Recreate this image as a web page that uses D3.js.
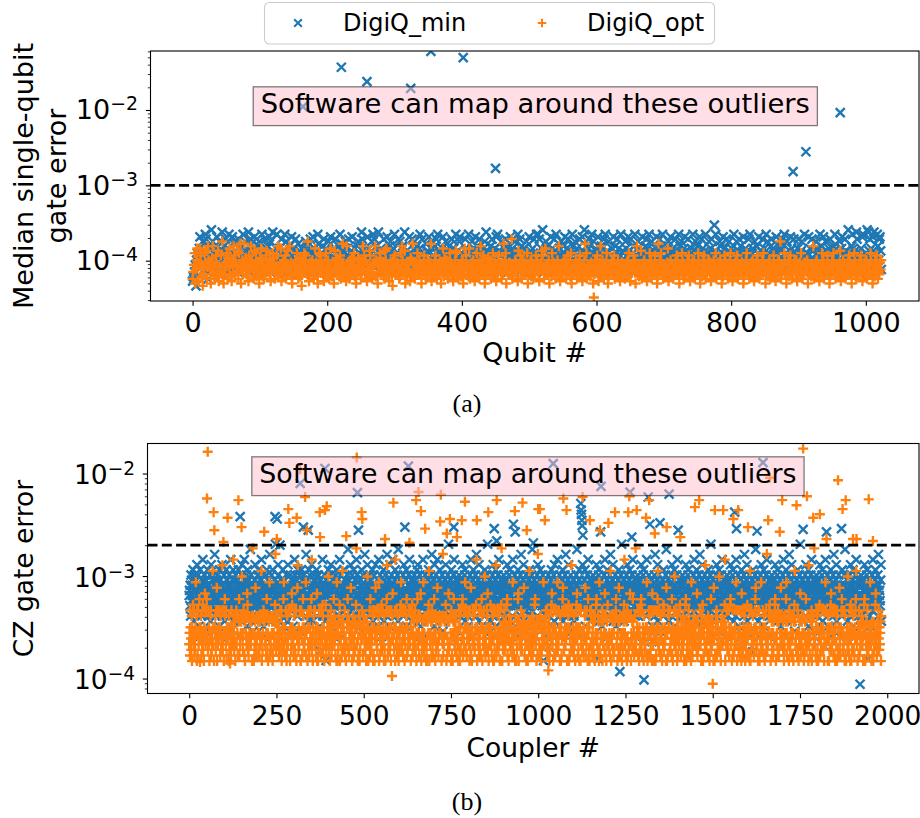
<!DOCTYPE html>
<html lang="en">
<head>
<meta charset="UTF-8">
<title>DigiQ gate errors</title>
<script src="https://d3js.org/d3.v7.min.js"></script>
<style>
  body { margin: 0; background: #fff; }
  svg { display: block; font-family: "DejaVu Sans", sans-serif; }
</style>
</head>
<body>
<script>
// Each character is one reading off the picture, on a log grid (base-36 digit k):
// value = 10^(lo + step * k)
const qubitGrid = { lo: -4.52, step: 0.031 };
const couplerMinGrid = { lo: -4.09, step: 0.05 };
const couplerOptGrid = { lo: -4.16, step: 0.055 };

const qubitMinLevels = [
  "8a9cf6hk gjmrhekp fdlsqgi9 nhcjuepk ighmrdfj pkbhtlgn eqjhcmsi gkfrdhop lhjcqmfe nigsdkph jfltgcqo hkemrjfd ignpbhls kdhqefmj ngrcpiht fjkdmsgh",
  "hmdkqgjf lsepihck nfjrgdmh kqhbeoil gjmdshfk pcinlgeq jhkrfmdi lgsohjce knfqdimh gjpekrhl dmigqfkc hnjsegol ikdpmhfj qgcklrei hmfjdnpg kietqhjm",
  "fjlcrhmg dkpishqe gnhjtfkc mielqgdh jrfkcnph lgmdsiej hkqfpgcm nihtjdlf egrkmhqi cjplfngd hmskeqig jdfoclhr kgimpejh ndqgsfkl hjcmrieg pkdhlnfj",
  "gqkdmhjs eilfprgc khnjdqmf igslhekp cjmgrdhn lfqkiejh mdpgtclk hfjniqeg kmdrhsfl gjcpkeim hqldnfgj rkemhicp fjgsldqh kndhmjfe pgikrclh jmfqdgks",
  "hsjqdkmf ugcilphe njgkrdmh fqlesikc jmhdpgfn kricmhqj egldsnhk pfjmcigq hkdrleuj gnfimqch ksdjpeml hgrfkcin mjdqhsge lkpfgjcm irhdnekq gmjcsfhl",
  "kdhpmgjr fleqickn hsjgdmpf kiclrhej gnqdmfsk hjpeilcg mrkdhfqj ngsleimc dhkpjgrf lmcehqik jgsdnfph kemrilgc qjhdfmks gilpcenh jrdkqfmg hlsjeckp",
  "fjmqhdkw lsgihecp njdkrfmh gqcilphe kmhdsgjf pielqcnh jgrkdmfi lhqesjck mfgpidnh krcjlghq fmdisepk hjgnqcml dkfrhjge nilmqcgs hkfpdjel rgmicqhf",
  "jdhmqgkf lpeicshn gkjrdmfh qilcegpk mhjdsfng kricphle jmgqdhfk nlsiejcg hpdkmrfj gqlcieuh kjdnsmfg lhtqeikc gmjrsdhe kfuitlqh mgdrtkfe jsnhqrld"
];

const qubitOptLevels = [
  "9cfk7dhm e8gmjaf6 bdkgl9en hfb7dine a9gjfbl8 cejbpa7f dbgk9iem fa8hcnjb gecl9kfo 7dhbgoei bfa8jdgn hec9lfka dgb7ihme af9cdjlg echb8fdk gi9cejbn",
  "dbfm8cga hej9dlfc nbga7ecd fhbkc9di ag6cfekh jdbpa8gc efhb9dmc ga7fkdjh ceb8gakd fhc9bmea dg7lfcie hbaj9dfo gebc8nfa d9hcfige kab7dcih fe9bgndj",
  "bhc8fdal jeb9cgfn ahb7ecki gdcfa9lh mecb8dgf a6hcjebd gfb9akcn hecl7bfa dgc8ihbo fa9cgdkb ehbd7fcg jca9bhed fgo8cbda hje9bfcg d7gcmaif ehb9dckg",
  "cfa8bdhl kec9fbda gh7bmejd fbam9dcg ehc8bfka dg9cnhef jb7adcgi fch9bekd agb8cfhj dec9gbof hk7cdbeg fbq9acdh gec8lfdj a9hdcgbe fk7bcdha ge9bfcjd",
  "hcb8dfgl je9cmbdf bh7ecakd gfc9bdhe na8cfbgd ehb9djcf gak7bcde fhb9cgdj bec8afho dk9bcefa gcd71bhe fjb8cgna ehc9bfgk d7abcefh gbj9dcfa hce8bdgf",
  "bf9cdgha ke8bcfdj gh7cneda fbl9dcgh eac8bfdk gh9cbdej fb7aodhg kec9bfda dgm8cbhe fa9cdgbj heb7cfdk ga9bcedh fjc8bdga eh9cbfdk gb7dcahf je9cbgdh",
  "cg8bdfha ek9cbgdf hb7cadje gfc9bdhk ea8cbfgd hj9bcedf gb7acdhk fec9bdga hd8cbgej fa9bcdhg kec7bfda gh9dcbej fb8acdgh ep9cbfdk gb7dchaf jd9cbegh",
  "bh8cdfga ke9bcgdf gh7cbeda fbn9dcgh eac8bfdk gh9cbdej fb7acdhg kec9bfda dgl8cbhe fa9cdgbj heb7cfdk ga9bcedh fjc8bdga eh9cbfdk gb7dcahf je9cbgdh"
];

// qubit index, error: DigiQ_min points that sit far above the band
const qubitMinOutliers = [
  [164, 1.11e-2], [221, 3.69e-2], [259, 2.38e-2], [324, 1.94e-2], [354, 6.0e-2],
  [402, 4.96e-2], [450, 1.68e-3], [892, 1.52e-3], [911, 2.79e-3], [962, 9.2e-3]
];

const couplerMinLevels = [
  "ijgkemhl kihnjdgm hjlfkiog jhmkcian gikjelhp kjhimfgb ljgiknhe hkjmgdio jighlmfk iqhjkegl hkmijcgn jlhgkioe kihjmfdg hjnkilga ijkmhegp khjgilnd",
  "jhigkmel ihjkfnga kjlhimdo hgkjiepl jikhmcgn ihjlkgfr kmjhigeb hjkilodg ijhgkmfn kighjlep jhmkicga hikjgmnf jkhilgdq ikjhmegn hjgkilcs kijhmfgo",
  "mgikhdjl fkhjnigc lihkgejm dhjoikga kgmhjfil ihcjkgpm jlghkien gkibjmhf hnjkigld mjhgkeiq kglihjdn ijmhfkgo hkdjgilm gjlkhnei khmijgcf lihgkjpe",
  "jgkimhfd hlikjgen ikgjhmoc kjfhlgai gihkmjdn hjlgikep kmihgjfa ijhnkgdl gkjihmer jhlkgiof ihkmjgcn kgjhildp hmkigjfe jihlkgnb kgmjhidq ihjkglfo",
  "hkigjmel ghjkinfd jmhikgoc ikhgjlep khjmigfa gjikhndl ihmkjgeq jkgihlco hgkjmifp kijhglne jhgkimdr ihkjlgfb gkhijmeo jikghlnc hjgkimfp kighjlda",
  "gjhkimle khijgnfo jikghmdc hgjklipe ikjhmgfa jghiklnd khimjgeq ihgjklco jkhmigfp hgkijlne kjihgmdb ihjkglfo gkjhimes jhikgldn kighjmfp hjkgilea",
  "ikjhgmle jhkgilfo kigjhmnd hjikglec gkhjimfp ijhgklna khjimgeq jgihklod hikgjmfc kjhiglen ihgkjmfs gkjhildb jihkgmeo hkgjilnc kijhgmfp jghkilda",
  "hgjkimle jkihglfo ikhgjmnd kjgihlep hikjgmfc gjhkilna ikjhgmeq hkgijlod jihkgmfb kghjilen ijkhgmfr hjgiklda kihjgmeo gkjhilnc jihgkmfp hkjgilea",
  "jhkgimf8 ikgjhlnc hjkimgdo kigjhlfp ghkijmea jikhglnd hkgjimeq ikjhglco jghkimfb kihjgled hjgkimfr ikhjglna gjkhimeo khijglnc jihkgmfp hkjgilde",
  "ikhgjmle hgjkilfo jkihgmnd gihkjlec kjgihmfp hikjglna jghkimeq kihjglod ighkjmfc jkhiglen hgijkmfs kjhgilda ihkjgmeo gjhkilnc khjigmfp ijkghlea",
  "hkgjimle jkighlfo ihkjgmnd kgjihlep jhkigmfa ighkjl9c khjgimeq hijkglod gkihjmfb jhgkilen ikhjgmfr kgijhlda hjkigmeo ijghklnc kjhgimfp gihjklea",
  "jgikhmle kihgjlfo hjgkimnd ikjhglec gjhkimfp khigjlna ijkhgmeq hkgijlod jihkgmfc ghkjilen kjihgmfs ihjkglda jkhigmeo gihjklnb khjgimfp jigkhlea",
  "kighjmle hjkgilfo jikhgmnd hgjkilep kihjgmfc jhkgilna igkjhmeq khijglod hjgkimfa ikhjgl7n gjkihmfr kjhgilda ihgjkmeo jkhiglnc hgijkmfp kjihglea",
  "hijgkmle gkjihlfo jhkigmnd khgjilec ijkhgmfp gihkjlna hkjigmeq jgkhilod kihgjmfb hjkiglen igjhkmfs jkhgilda gihjkmeo khjiglnc ijkghmfp hgkjilea",
  "gkhijmle jihkglfo kgjhimnd ihkgjl8p hjgkimfc kijhglna gkhjimeq jihgklod hkjgimfa igkhjlen jhkigmfr kghijlda ihjkgmeo gjkihlnc kihjgmfp jhgkilea",
  "ikjghmle hgkjilfo jihkgmnd kghjilec ihjkgmfp jkgihlna hgkijmeq kijhglod"
];

const couplerOptLevels = [
  "9b7fca8e 6cagb9f7 a8ckbe6f 7bf9ahc8 cae7b9fg 8a6cbif9 bfh7ac8f 9c6abef7 a8bmc9f6 7cbe8afj 6b9fcafa c7e8bf9n 8ac6fbhe b9f7cakc a6e8bfc9 7fb9caoe",
  "b8ad6e9f 9eb7eadh 7a9ebd6l ea8bfe7d 6dbe9aig 8e7aebd9 a9de6bqe e6b8adj7 9ea7ebd8 b7ed9aem 6a8befd9 de9a7bhe 8b6edak7 a9ee8bd6 7eb9adgp e8a6dbe9",
  "a7c9bf8e f6ab8chk 9cb7aff6 8ea9cbf7 b6fc8aig c9a7bef8 7bf6cajn a8c9bff6 6fba7che 9c8afbk7 bae6c9f8 7c9bfaho 8a6cbef9 f9b7aci6 c6a8bffs 9b7facge",
  "8cb6ad9g a7d9cbel c8a6bdf9 7b9dcahe 9ad7cb6k b6c8daeg 6a9bc7dm d8cba9f7 a6b9cdhe 8d7acb9j c9b6ade8 7ab8dcgq b9c6a7de 6d8bcaif 9a7cdbe8 a8b6dc9l",
  "c6a9bf7h 9b8cafe6 7fc6abjf a9b8cfek 6c7afb9g b8f9ca6e 8a6cbfhn f7b9acf8 9c6fabei a7c8bf6o c9f7abe8 6b8acfgk 8f9ca7bf b6a9fceh 7c8baf9r a9f6cbeg",
  "7b9ade8f a8e6bdhe 9db7eaei e6a8bd9k b7e9ade6 8a6debgm 6e9bad7f d8a7ebhe a6b8de9j 9e7bade8 b8d6ea9p 7a9edbeg e6b7ad8i 8d9aeb6f a7e6bdhe 9b8dae7s",
  "b9a6cf8e 6c8fabgh a7b9fc6k 8fc7abef c9a6bf8j 7b6caf9e 9a8fbcgo f6c9ab7f a8b7cfhe 6c9baf8l b7a8cfei 8f6cab9g c9b7afe6 a6f8cbfn 7c9abf8e 9b6fcagq",
  "a6c8bd9f 8b9dacgh 7ca6bde9 c8d9ab7k 9a7cbd6e b6a8cdhi 6d9bac8f a8c7dbej d7b9ac6g 9c6abd8m 8ad7cb9e 7b8cadgh c9a6bd7p a7d9cbe8 6c8bad9k b9a7dcfe",
  "9f7acb8e 6b8cafgi a9c6bf7f c7b8af9k 8a9fcb6e b6c7afhj 7f8bac9f a9b6cfeg 6c7abf8n f8a9cb7e 9b6acfgi a7c8bf6f c6f9ab8r 8b7cafej 7a9fcb6h b8c6af9f",
  "e8a7bd9e 7d6eabgh a9b8ed6k 8e7abdef 6a9deb8i b7e6ad9g 9d8abe7m a6e9bde8 7b8daefh e9a6bd7j 8d7eab9e 6a8bedgo b9e7ad6f a7d8ebei 9e6bad8h d8b7ae9q",
  "8a9cbf7f b6c8afgh 9f7acb6e a8b9cf7k c6a7bf9e 7b8fac6i f9c6ab8f 6a7bcfhm 9c8fab7e b7a6cf9g 8f9cab6j a6b7fcef c8f9ab7h 7a6cbf9l 9b8afc6e a7c9bfgs",
  "b7d9ac8e 9a6cbdgh 6c8abd7f d9b7ac6k 8a7cbde9 c6b9ad8i 7d8abc9f a9c6dbeg 6b7cad8n 9d8abc7e c7a6bd9h 8b9dac6j a6c7bdef 7d9cab8l b8a6cd9e 9c7abdgo",
  "6b9caf8f a8f7cbgh c9a6bf7e 7b8acf9k 9f6abc8f b7c9af6i 8a7fcb9e f6b8ac7g a9c7bf6m 6c8fab9e 9b7acfhj c8a9bf6f 7f6cab8k a9b8fc7e b6c7af9p 8a9cbfeg",
  "9e6abd8e 7b8daegh a6e9bd7f 8d7eab9j e9b6ad8e 6a8bedhk b7d9ae6f 9e8abd7e a7b6edgm d9a8eb7f 8e6bad9i 7a9deb8e e6b7ad9h a8d9eb6n 9b7aedef 6d8bae9q",
  "a9b7cf6e 8c6fabgh 7a9cbf8f c8b6af9k 9f7abc6e b6a8cfgi 8c9fab7f a7b6cf9e 6f8acb7j 9a7cbfhf c8b9af6e 7f6abc8l b9a7cf6g a6c8fb9e 8b7cafhm f9a6cb7f",
  "7c8abd9e a9d6cbgh c6b9ad8f 8a7dcb9k b9c6ad7e 6d8acbgi 9a7bcd8f a8c9bd6e"
];

// coupler index, error: readings outside the grid or picked out one by one
const couplerMinExtra = [
  [146, 3.8e-3], [246, 3.8e-3], [252, 3.6e-3], [260, 2.0e-3], [318, 8.0e-3], [327, 3.0e-3],
  [341, 2.8e-3], [389, 1.12e-2], [375, 1.85e-4], [392, 1.5e-4], [482, 6.5e-3], [485, 2.8e-3],
  [618, 3.0e-3], [628, 1.18e-2], [758, 3.0e-3], [874, 2.9e-3], [881, 2.2e-3], [929, 3.2e-3],
  [934, 2.7e-3], [986, 2.1e-3], [1015, 1.5e-4], [1043, 1.25e-2], [1122, 5.1e-3], [1123, 4.4e-3],
  [1124, 4.0e-3], [1125, 3.5e-3], [1126, 3.1e-3], [1128, 2.5e-3], [1172, 1.55e-4], [1179, 2.7e-3],
  [1180, 7.5e-3], [1234, 1.17e-4], [1263, 6.6e-3], [1268, 2.4e-3], [1303, 9.7e-5], [1315, 5.9e-3],
  [1320, 3.2e-3], [1349, 3.3e-3], [1375, 6.3e-3], [1401, 2.8e-3], [1563, 4.2e-3], [1568, 2.9e-3],
  [1627, 2.75e-3], [1644, 1.28e-2], [1759, 2.85e-3], [1826, 2.7e-3], [1869, 2.9e-3], [1922, 8.8e-5],
  [1945, 1.55e-4]
];
const couplerOptExtra = [
  [31, 1.45e-4], [51, 5.7e-3], [53, 1.63e-2], [70, 4.2e-3], [72, 2.8e-3], [98, 2.15e-3],
  [110, 3.7e-3], [117, 1.4e-4], [141, 5.5e-3], [150, 3.0e-3], [215, 2.7e-3], [251, 2.3e-3],
  [284, 4.5e-3], [287, 3.3e-3], [308, 3.7e-3], [318, 1.1e-2], [332, 5.9e-3], [337, 2.8e-3],
  [374, 4.2e-3], [389, 4.4e-3], [394, 4.8e-3], [450, 2.45e-3], [480, 1.43e-2], [494, 4.2e-3],
  [496, 3.6e-3], [561, 2.3e-3], [581, 1.06e-4], [585, 5.2e-3], [650, 5.5e-3], [657, 6.6e-3],
  [664, 4.3e-3], [676, 2.9e-3], [719, 3.4e-3], [721, 6.2e-3], [738, 2.6e-3], [747, 3.6e-3],
  [781, 3.5e-3], [790, 5.3e-3], [824, 3.5e-3], [857, 4.2e-3], [881, 5.5e-3], [933, 4.3e-3],
  [955, 5.2e-3], [967, 2.8e-3], [1000, 4.5e-3], [1005, 4.5e-3], [1019, 3.5e-3], [1029, 1.2e-4],
  [1072, 5.7e-3], [1081, 4.4e-3], [1127, 5.9e-3], [1148, 3.5e-3], [1177, 2.8e-3], [1201, 3.3e-3],
  [1220, 4.2e-3], [1258, 4.2e-3], [1261, 6.0e-3], [1282, 4.4e-3], [1309, 3.7e-3], [1318, 5.5e-3],
  [1334, 2.6e-3], [1368, 3.0e-3], [1449, 4.7e-3], [1461, 5.5e-3], [1500, 8.9e-5], [1506, 4.4e-3],
  [1530, 4.4e-3], [1559, 3.6e-3], [1573, 4.4e-3], [1601, 3.0e-3], [1659, 3.5e-3], [1664, 9.1e-3],
  [1692, 2.7e-3], [1699, 5.5e-3], [1740, 4.9e-3], [1759, 1.75e-2], [1770, 6.0e-3], [1788, 3.7e-3],
  [1807, 4.0e-3], [1826, 2.3e-3], [1859, 8.6e-3], [1872, 4.5e-3], [1881, 5.5e-3], [1902, 2.3e-3],
  [1912, 2.3e-3], [1947, 5.6e-3], [1959, 2.2e-3]
];

const qubitTicks = [0, 200, 400, 600, 800, 1000];
const couplerTicks = [0, 250, 500, 750, 1000, 1250, 1500, 1750, 2000];
const decadeTicks = [-4, -3, -2];
const qubitThreshold = 1e-3;
const couplerThreshold = 2e-3;
const noteText = "Software can map around these outliers";
const seriesNames = ["DigiQ_min", "DigiQ_opt"];
const colors = ["#1f77b4", "#ff7f0e"];

function readLevels(lines, grid, extras) {
  const pts = lines.join("").replace(/\s+/g, "").split("")
    .map((c, i) => ({ x: i, y: Math.pow(10, grid.lo + parseInt(c, 36) * grid.step) }));
  (extras || []).forEach(([i, v]) => { if (pts[i]) pts[i].y = v; });
  return pts;
}

const X_PATH = "M-4.5,-4.5L4.5,4.5M-4.5,4.5L4.5,-4.5";
const PLUS_PATH = "M-5,0H5M0,-5V5";

const svg = d3.select("body").append("svg")
  .attr("width", 920).attr("height", 818);

function panel(o) {
  const x = d3.scaleLinear().domain(o.xDomain).range([o.left, o.right]);
  const y = d3.scaleLog().domain(o.yDomain).range([o.bottom, o.top]);
  const g = svg.append("g");

  svg.append("clipPath").attr("id", "clip-" + o.id).append("rect")
    .attr("x", o.left).attr("y", o.top)
    .attr("width", o.right - o.left).attr("height", o.bottom - o.top);
  const plot = g.append("g").attr("clip-path", `url(#clip-${o.id})`);

  o.series.forEach(s => {
    plot.append("g").selectAll("path").data(s.points).join("path")
      .attr("transform", d => `translate(${x(d.x).toFixed(2)},${y(d.y).toFixed(2)})`)
      .attr("d", s.marker === "x" ? X_PATH : PLUS_PATH)
      .attr("fill", "none").attr("stroke", s.color).attr("stroke-width", 2.4);
  });

  plot.append("line")
    .attr("x1", o.left).attr("x2", o.right)
    .attr("y1", y(o.threshold)).attr("y2", y(o.threshold))
    .attr("stroke", "#000").attr("stroke-width", 2.7).attr("stroke-dasharray", "10,4.3");

  // note box (pink, half transparent, over the points)
  const note = g.append("g");
  const box = note.append("rect");
  const txt = note.append("text")
    .attr("x", o.left + o.note.dx).attr("y", o.top + o.note.dy)
    .attr("font-size", o.noteSize).attr("fill", "#000").text(noteText);
  const w = txt.node().getComputedTextLength();
  box.attr("x", o.left + o.note.dx - 7.5).attr("y", o.top + o.note.dy - 26.5)
    .attr("width", w + 15).attr("height", 38.8)
    .attr("fill", "pink").attr("fill-opacity", 0.5)
    .attr("stroke", "#000").attr("stroke-opacity", 0.5).attr("stroke-width", 1.3);

  // axes
  const xAxis = g.append("g").attr("transform", `translate(0,${o.bottom})`)
    .call(d3.axisBottom(x).tickValues(o.xTicks).tickSize(4.7).tickPadding(o.xPad).tickFormat(d3.format("d")));
  xAxis.select(".domain").remove();
  xAxis.selectAll("text").attr("font-size", o.fontSize).attr("font-family", "DejaVu Sans").attr("fill", "#000");
  xAxis.selectAll("line").attr("stroke", "#000").attr("stroke-width", 1.1);

  const minors = [];
  for (let e = -6; e <= 0; e++) for (let m = 2; m <= 9; m++) {
    const v = m * Math.pow(10, e);
    if (v > o.yDomain[0] && v < o.yDomain[1]) minors.push(v);
  }
  const yMinor = g.append("g").attr("transform", `translate(${o.left},0)`)
    .call(d3.axisLeft(y).tickValues(minors).tickSize(2.7).tickFormat(""));
  yMinor.select(".domain").remove();
  yMinor.selectAll("line").attr("stroke", "#000").attr("stroke-width", 0.8);

  const yMajor = g.append("g").attr("transform", `translate(${o.left},0)`)
    .call(d3.axisLeft(y).tickValues(decadeTicks.map(e => Math.pow(10, e))).tickSize(4.7).tickFormat(""));
  yMajor.select(".domain").remove();
  yMajor.selectAll("line").attr("stroke", "#000").attr("stroke-width", 1.1);

  decadeTicks.forEach(e => {
    const t = g.append("text")
      .attr("x", o.left - 12.5).attr("y", y(Math.pow(10, e)) + o.yLabelShift)
      .attr("text-anchor", "end").attr("font-size", o.fontSize).attr("fill", "#000");
    t.append("tspan").text("10");
    t.append("tspan").attr("dy", -9).attr("font-size", o.fontSize * 0.7).text("\u2212" + Math.abs(e));
  });

  g.append("rect")
    .attr("x", o.left).attr("y", o.top)
    .attr("width", o.right - o.left).attr("height", o.bottom - o.top)
    .attr("fill", "none").attr("stroke", "#000").attr("stroke-width", 1.1);

  g.append("text")
    .attr("x", (o.left + o.right) / 2).attr("y", o.xLabelY)
    .attr("text-anchor", "middle").attr("font-size", o.fontSize).text(o.xLabel);

  o.yLabel.forEach((line, i) => {
    g.append("text")
      .attr("transform", `translate(${o.yLabelX[i]},${(o.top + o.bottom) / 2}) rotate(-90)`)
      .attr("text-anchor", "middle").attr("font-size", o.fontSize).text(line);
  });

  g.append("text")
    .attr("x", 467).attr("y", o.capY)
    .attr("text-anchor", "middle").attr("font-family", "Liberation Serif, serif")
    .attr("font-size", 26).text(o.caption);
}

panel({
  id: "a", left: 150.5, right: 919, top: 51, bottom: 301,
  xDomain: [-62.5, 1079], yDomain: [Math.pow(10, -4.535), Math.pow(10, -1.217)],
  xTicks: qubitTicks, xPad: 7, fontSize: 27, noteSize: 27.4, yLabelShift: 9.5,
  series: [
    { points: readLevels(qubitMinLevels, qubitGrid, qubitMinOutliers), marker: "x", color: colors[0] },
    { points: readLevels(qubitOptLevels, qubitGrid), marker: "+", color: colors[1] }
  ],
  threshold: qubitThreshold,
  note: { dx: 110.2, dy: 62.3 },
  xLabel: "Qubit #", xLabelY: 362,
  yLabel: ["Median single-qubit", "gate error"], yLabelX: [33, 65.5],
  caption: "(a)", capY: 412
});

panel({
  id: "b", left: 147.5, right: 919, top: 443.5, bottom: 693.5,
  xDomain: [-119.5, 2091], yDomain: [Math.pow(10, -4.146), Math.pow(10, -1.707)],
  xTicks: couplerTicks, xPad: 8, fontSize: 26.5, noteSize: 26.8, yLabelShift: 10.5,
  series: [
    { points: readLevels(couplerMinLevels, couplerMinGrid, couplerMinExtra), marker: "x", color: colors[0] },
    { points: readLevels(couplerOptLevels, couplerOptGrid, couplerOptExtra), marker: "+", color: colors[1] }
  ],
  threshold: couplerThreshold,
  note: { dx: 111.8, dy: 39.8 },
  xLabel: "Coupler #", xLabelY: 756.5,
  yLabel: ["CZ gate error"], yLabelX: [33],
  caption: "(b)", capY: 810
});

// legend above panel (a)
const legend = svg.append("g");
legend.append("rect")
  .attr("x", 264.5).attr("y", 2.5).attr("width", 450).attr("height", 41.5).attr("rx", 5)
  .attr("fill", "#fff").attr("fill-opacity", 0.8).attr("stroke", "#cccccc").attr("stroke-width", 1.1);
[[298, 343, "x"], [542, 587, "+"]].forEach(([mx, tx, mk], i) => {
  legend.append("path").attr("transform", `translate(${mx},23) scale(0.85)`)
    .attr("d", mk === "x" ? X_PATH : PLUS_PATH)
    .attr("fill", "none").attr("stroke", colors[i]).attr("stroke-width", 2.4);
  legend.append("text").attr("x", tx).attr("y", 31).attr("font-size", 24).text(seriesNames[i]);
});
</script>
</body>
</html>
